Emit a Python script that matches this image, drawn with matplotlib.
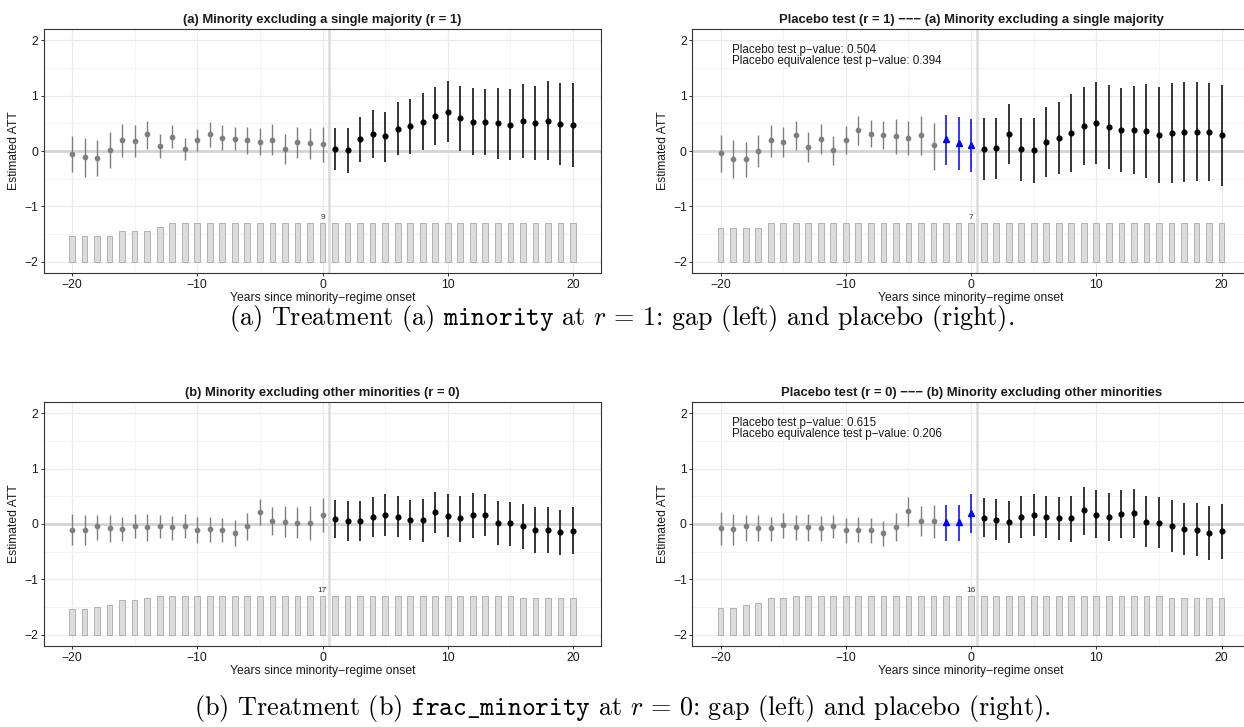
import matplotlib
matplotlib.use("Agg")
import matplotlib.pyplot as plt
from matplotlib.ticker import MultipleLocator

# ---- data -------------------------------------------------------------
years = list(range(-20, 21))

# (a) minority, r = 1 : gap estimates
gap_a_att = [-0.05, -0.11, -0.13, 0.02, 0.20, 0.18, 0.30, 0.09, 0.26, 0.04,
             0.19, 0.31, 0.24, 0.22, 0.19, 0.17, 0.20, 0.04, 0.16, 0.14,
             0.12, 0.03, 0.02, 0.21, 0.31, 0.27, 0.40, 0.45, 0.53, 0.63,
             0.71, 0.59, 0.53, 0.52, 0.50, 0.47, 0.55, 0.50, 0.55, 0.49, 0.47]
gap_a_lo = [-0.37, -0.46, -0.45, -0.30, -0.10, -0.10, 0.04, -0.13, 0.05, -0.16,
            0.00, 0.08, 0.01, 0.02, -0.06, -0.08, -0.08, -0.24, -0.13, -0.15,
            -0.20, -0.35, -0.39, -0.19, -0.12, -0.19, -0.08, -0.05, 0.02, 0.10,
            0.16, 0.00, -0.07, -0.08, -0.14, -0.17, -0.12, -0.17, -0.17, -0.25, -0.28]
gap_a_hi = [0.27, 0.23, 0.19, 0.34, 0.49, 0.46, 0.55, 0.31, 0.46, 0.23,
            0.39, 0.53, 0.46, 0.43, 0.44, 0.41, 0.48, 0.31, 0.43, 0.42,
            0.43, 0.41, 0.41, 0.61, 0.74, 0.71, 0.88, 0.94, 1.04, 1.16,
            1.26, 1.17, 1.13, 1.12, 1.14, 1.11, 1.20, 1.18, 1.26, 1.22, 1.22]
gap_a_n = [6, 6, 6, 6, 7, 7, 7, 8] + [9] * 33

# (a) minority, r = 1 : placebo test
plc_a_att = [-0.04, -0.14, -0.15, 0.00, 0.19, 0.16, 0.28, 0.08, 0.22, 0.01,
             0.20, 0.37, 0.31, 0.28, 0.27, 0.24, 0.29, 0.10, 0.21, 0.15,
             0.11, 0.04, 0.05, 0.31, 0.03, 0.01, 0.16, 0.24, 0.32, 0.45,
             0.51, 0.44, 0.38, 0.38, 0.36, 0.29, 0.33, 0.35, 0.35, 0.34, 0.28]
plc_a_lo = [-0.37, -0.48, -0.46, -0.29, -0.10, -0.10, 0.01, -0.19, -0.05, -0.26,
            -0.05, 0.11, 0.07, 0.03, -0.05, -0.08, -0.07, -0.34, -0.25, -0.34,
            -0.38, -0.52, -0.50, -0.23, -0.54, -0.58, -0.47, -0.42, -0.38, -0.26,
            -0.23, -0.32, -0.38, -0.41, -0.49, -0.57, -0.57, -0.55, -0.54, -0.54, -0.64]
plc_a_hi = [0.29, 0.20, 0.16, 0.29, 0.47, 0.44, 0.55, 0.34, 0.49, 0.27,
            0.45, 0.63, 0.56, 0.54, 0.58, 0.55, 0.64, 0.51, 0.65, 0.61,
            0.58, 0.59, 0.59, 0.84, 0.59, 0.59, 0.79, 0.89, 1.02, 1.16,
            1.24, 1.19, 1.14, 1.17, 1.20, 1.16, 1.22, 1.24, 1.25, 1.22, 1.19]
plc_a_n = [6, 6, 6, 6] + [7] * 37
plc_a_p = 0.504
plc_a_eq_p = 0.394

# (b) frac_minority, r = 0 : gap estimates
gap_b_att = [-0.10, -0.10, -0.04, -0.07, -0.09, -0.03, -0.05, -0.04, -0.06, -0.03,
             -0.11, -0.09, -0.11, -0.16, -0.04, 0.22, 0.05, 0.04, 0.02, 0.02,
             0.16, 0.09, 0.06, 0.05, 0.13, 0.17, 0.13, 0.08, 0.07, 0.21,
             0.15, 0.10, 0.16, 0.16, 0.02, 0.01, -0.04, -0.10, -0.10, -0.14, -0.12]
gap_b_lo = [-0.37, -0.37, -0.29, -0.32, -0.31, -0.25, -0.30, -0.26, -0.28, -0.26,
            -0.35, -0.32, -0.33, -0.39, -0.29, -0.02, -0.20, -0.24, -0.26, -0.28,
            -0.15, -0.26, -0.30, -0.31, -0.23, -0.21, -0.24, -0.29, -0.32, -0.17,
            -0.24, -0.32, -0.25, -0.22, -0.37, -0.39, -0.45, -0.52, -0.52, -0.56, -0.54]
gap_b_hi = [0.18, 0.16, 0.17, 0.17, 0.12, 0.18, 0.18, 0.17, 0.15, 0.18,
            0.12, 0.13, 0.10, 0.07, 0.19, 0.45, 0.31, 0.32, 0.31, 0.32,
            0.47, 0.43, 0.42, 0.41, 0.49, 0.54, 0.50, 0.44, 0.45, 0.58,
            0.54, 0.51, 0.56, 0.54, 0.41, 0.40, 0.36, 0.31, 0.31, 0.26, 0.30]
gap_b_n = [11, 11, 12, 13, 15, 15, 16] + [17] * 29 + [16] * 5

# (b) frac_minority, r = 0 : placebo test
plc_b_att = [-0.08, -0.09, -0.03, -0.07, -0.08, -0.02, -0.05, -0.05, -0.07, -0.04,
             -0.11, -0.10, -0.11, -0.16, -0.05, 0.23, 0.05, 0.05, 0.03, 0.03,
             0.20, 0.11, 0.08, 0.04, 0.13, 0.17, 0.13, 0.10, 0.10, 0.25,
             0.17, 0.13, 0.18, 0.19, 0.04, 0.02, -0.03, -0.09, -0.10, -0.16, -0.13]
plc_b_lo = [-0.38, -0.37, -0.31, -0.31, -0.30, -0.26, -0.29, -0.30, -0.30, -0.26,
            -0.34, -0.33, -0.34, -0.39, -0.30, -0.04, -0.22, -0.26, -0.30, -0.30,
            -0.16, -0.24, -0.29, -0.34, -0.26, -0.21, -0.26, -0.29, -0.32, -0.19,
            -0.26, -0.30, -0.26, -0.25, -0.42, -0.44, -0.51, -0.56, -0.57, -0.65, -0.63]
plc_b_hi = [0.21, 0.18, 0.17, 0.16, 0.13, 0.19, 0.17, 0.18, 0.15, 0.17,
            0.10, 0.13, 0.10, 0.06, 0.19, 0.48, 0.32, 0.35, 0.35, 0.35,
            0.54, 0.46, 0.45, 0.42, 0.51, 0.55, 0.51, 0.49, 0.51, 0.67,
            0.61, 0.56, 0.62, 0.63, 0.50, 0.48, 0.44, 0.38, 0.38, 0.33, 0.36]
plc_b_n = [11, 11, 12, 13, 15, 15] + [16] * 30 + [15] * 5
plc_b_p = 0.615
plc_b_eq_p = 0.206

placebo_years = [-2, -1, 0]

# ---- style -------------------------------------------------------------
plt.rcParams['font.family'] = ['Liberation Sans', 'DejaVu Sans']
plt.rcParams['mathtext.fontset'] = 'cm'

W, H = 1244, 727
fig = plt.figure(figsize=(W / 100, H / 100), dpi=100)

TXT = '#1a1a1a'
BAR_MAX = 0.71   # height of the tallest count bar in ATT units


def draw_panel(rect, att, lo, hi, counts, title, placebo=False, pvals=None):
    ax = fig.add_axes(rect)
    ax.set_xlim(-22.25, 22.25)
    ax.set_ylim(-2.2, 2.2)

    # grid
    ax.xaxis.set_major_locator(MultipleLocator(10))
    ax.xaxis.set_minor_locator(MultipleLocator(5))
    ax.yaxis.set_major_locator(MultipleLocator(1))
    ax.yaxis.set_minor_locator(MultipleLocator(0.5))
    ax.grid(which='major', color='#ebebeb', lw=0.9, zorder=0)
    ax.grid(which='minor', color='#f3f3f3', lw=0.6, zorder=0)
    ax.set_axisbelow(True)

    # reference lines
    ax.axhline(0, color='#d4d4d4', lw=2.0, zorder=1)
    ax.axvline(0.5, color='#dedede', lw=2.0, zorder=1)

    # count bars at the bottom
    nmax = max(counts)
    heights = [BAR_MAX * c / nmax for c in counts]
    ax.bar(years, heights, bottom=-2, width=0.46, color='#dcdcdc',
           edgecolor='#a8a8a8', lw=0.6, zorder=2)
    i0 = years.index(0)
    ax.text(0, -2 + heights[i0] + 0.03, str(counts[i0]), ha='center',
            va='bottom', fontsize=6, color='#333333')

    # estimates
    for x, m, l, h in zip(years, att, lo, hi):
        if placebo and x in placebo_years:
            col, mk, ms, lw = '#0000ff', '^', 4.6, 1.1
        elif x <= (-3 if placebo else 0):
            col, mk, ms, lw = '#7f7f7f', 'o', 3.1, 1.0
        else:
            col, mk, ms, lw = 'black', 'o', 3.4, 1.1
        ax.plot([x, x], [l, h], color=col, lw=lw, solid_capstyle='butt', zorder=3)
        ax.plot([x], [m], marker=mk, color=col, ms=ms, mec=col, zorder=4)

    if pvals is not None:
        ax.text(-19.1, 1.83, 'Placebo test p\u2212value: %.3f' % pvals[0],
                fontsize=8.4, color=TXT, va='center', ha='left')
        ax.text(-19.1, 1.62, 'Placebo equivalence test p\u2212value: %.3f' % pvals[1],
                fontsize=8.4, color=TXT, va='center', ha='left')

    for s in ax.spines.values():
        s.set_color('#333333')
        s.set_linewidth(0.8)
    ax.tick_params(which='major', length=2.5, width=0.7, color='#333333',
                   labelsize=8.7, labelcolor=TXT, pad=1.5)
    ax.tick_params(which='minor', length=0)
    ax.set_xticks([-20, -10, 0, 10, 20])
    ax.set_xticklabels(['\u221220', '\u221210', '0', '10', '20'])
    ax.set_yticks([-2, -1, 0, 1, 2])
    ax.set_yticklabels(['\u22122', '\u22121', '0', '1', '2'])
    ax.set_xlabel('Years since minority\u2212regime onset', fontsize=8.7,
                  color=TXT, labelpad=1)
    ax.set_ylabel('Estimated ATT', fontsize=8.7, color=TXT, labelpad=3)
    ax.set_title(title, fontsize=9.4, fontweight='bold', color=TXT, pad=4)
    return ax


axw = 557.4 / W
axh = 244 / H
row1_b = 1 - 273 / H
row2_b = 1 - 646 / H
col1_l = 43.8 / W
col2_l = 692.4 / W

draw_panel([col1_l, row1_b, axw, axh], gap_a_att, gap_a_lo, gap_a_hi, gap_a_n,
           '(a) Minority excluding a single majority (r = 1)')
draw_panel([col2_l, row1_b, axw, axh], plc_a_att, plc_a_lo, plc_a_hi, plc_a_n,
           'Placebo test (r = 1) \u2212\u2212\u2212 (a) Minority excluding a single majority',
           placebo=True, pvals=(plc_a_p, plc_a_eq_p))
draw_panel([col1_l, row2_b, axw, axh], gap_b_att, gap_b_lo, gap_b_hi, gap_b_n,
           '(b) Minority excluding other minorities (r = 0)')
draw_panel([col2_l, row2_b, axw, axh], plc_b_att, plc_b_lo, plc_b_hi, plc_b_n,
           'Placebo test (r = 0) \u2212\u2212\u2212 (b) Minority excluding other minorities',
           placebo=True, pvals=(plc_b_p, plc_b_eq_p))

# sub-figure captions
cap_kw = dict(ha='center', va='center', fontsize=18.8, family='cmr10', color='black')
fig.text(0.5, 1 - 319 / H,
         r'(a) Treatment (a) $\mathtt{minority}$ at $r\, =\, 1$: gap (left) and placebo (right).',
         **cap_kw)
fig.text(0.5, 1 - 708 / H,
         r'(b) Treatment (b) $\mathtt{frac\_minority}$ at $r\, =\, 0$: gap (left) and placebo (right).',
         **cap_kw)

fig.savefig('out.png', dpi=100)
